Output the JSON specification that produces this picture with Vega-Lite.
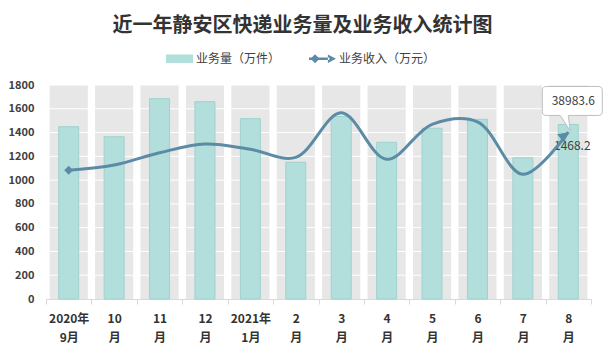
{
  "$schema": "https://vega.github.io/schema/vega-lite/v6.json",
  "width": 545,
  "height": 214,
  "autosize": {"type": "none"},
  "padding": {"left": 46, "top": 85, "right": 15, "bottom": 65},
  "background": "white",
  "title": {"text": "近一年静安区快递业务量及业务收入统计图", "font": "Noto Sans CJK SC", "fontSize": 20, "fontWeight": "bold", "color": "#333333", "anchor": "middle", "dx": -16, "offset": 9},
  "config": {"view": {"stroke": null}, "font": "Noto Sans CJK SC"},
  "data": {"values": [
    {"m": "2020年|9月", "量": 1449, "收入": 30070},
    {"m": "10|月", "量": 1365, "收入": 31300},
    {"m": "11|月", "量": 1685, "收入": 34180},
    {"m": "12|月", "量": 1660, "收入": 36200},
    {"m": "2021年|1月", "量": 1517, "收入": 34980},
    {"m": "2|月", "量": 1150, "收入": 33100},
    {"m": "3|月", "量": 1535, "收入": 43500},
    {"m": "4|月", "量": 1318, "收入": 32640},
    {"m": "5|月", "量": 1436, "收入": 40800},
    {"m": "6|月", "量": 1511, "收入": 41400},
    {"m": "7|月", "量": 1188, "收入": 29140},
    {"m": "8|月", "量": 1468.2, "收入": 38983.6}
  ]},
  "resolve": {"scale": {"y": "independent"}},
  "layer": [
    {
      "mark": {"type": "bar", "color": "#e7e7e7", "width": {"band": 0.84}},
      "encoding": {
        "x": {"field": "m", "type": "nominal", "sort": null, "scale": {"paddingInner": 0, "paddingOuter": 0}},
        "y": {"datum": 1800, "type": "quantitative", "scale": {"domain": [0, 1800], "nice": false}, "axis": null}
      }
    },
    {
      "data": {"values": [{"v": 200}, {"v": 400}, {"v": 600}, {"v": 800}, {"v": 1000}, {"v": 1200}, {"v": 1400}, {"v": 1600}, {"v": 1800}]},
      "mark": {"type": "rule", "color": "white", "strokeWidth": 1},
      "encoding": {
        "y": {"field": "v", "type": "quantitative", "scale": {"domain": [0, 1800], "nice": false}, "axis": null}
      }
    },
    {
      "mark": {"type": "bar", "width": {"band": 0.44}, "stroke": "#9fd2cd", "strokeWidth": 1},
      "encoding": {
        "x": {"field": "m", "type": "nominal", "sort": null, "scale": {"paddingInner": 0, "paddingOuter": 0},
          "axis": {"title": null, "labelAngle": 0, "labelAlign": "center", "labelExpr": "split(datum.label, '|')", "labelFont": "Noto Sans CJK SC", "labelFontSize": 12, "labelFontWeight": "bold", "labelColor": "#333333", "labelLineHeight": 19,
            "labelPadding": 14,
            "domainColor": "#d9d9d9", "tickColor": "#d9d9d9", "tickSize": 5, "tickBand": "extent", "grid": false}},
        "y": {"field": "量", "type": "quantitative", "scale": {"domain": [0, 1800], "nice": false},
          "axis": {"title": null, "values": [0, 200, 400, 600, 800, 1000, 1200, 1400, 1600, 1800], "format": "d", "domain": false, "ticks": false, "grid": false, "labelFont": "Noto Sans CJK SC", "labelFontSize": 11, "labelFontWeight": "bold", "labelColor": "#404040", "labelPadding": 12}},
        "color": {"datum": "业务量（万件）",
          "scale": {"domain": ["业务量（万件）", "业务收入（万元）"], "range": ["#b2dfdb", "#5b8ba5"]},
          "legend": {"orient": "none", "legendX": 120, "legendY": -40, "direction": "horizontal", "title": null, "padding": 0,
            "labelFont": "Noto Sans CJK SC", "labelFontSize": 12, "labelColor": "#404040", "labelOffset": 3, "columnPadding": 28, "symbolSize": 729, "symbolStrokeWidth": 0, "symbolOpacity": 1,
            "symbolType": {"expr": "datum.value === '业务量（万件）' ? 'M-1,-0.32H1V0.32H-1Z' : 'M-1,-0.1H0.5V0.1H-1Z M-0.55,-0.34L-0.22,0L-0.55,0.34L-0.88,0Z M1,0L0.4,-0.32L0.4,0.32Z'"}}}
      }
    },
    {
      "transform": [{"filter": "datum.m === '8|月'"}],
      "mark": {"type": "text", "dx": 4, "dy": 22, "fontSize": 12, "color": "#404040", "font": "Noto Sans CJK SC"},
      "encoding": {
        "x": {"field": "m", "type": "nominal", "sort": null},
        "y": {"field": "量", "type": "quantitative", "scale": {"domain": [0, 1800], "nice": false}, "axis": null},
        "text": {"field": "量", "type": "quantitative", "format": ".1f"}
      }
    },
    {
      "mark": {"type": "line", "interpolate": "catmull-rom", "strokeWidth": 3},
      "encoding": {
        "x": {"field": "m", "type": "nominal", "sort": null},
        "y": {"field": "收入", "type": "quantitative", "scale": {"domain": [0, 50000], "nice": false}, "axis": null},
        "color": {"datum": "业务收入（万元）"}
      }
    },
    {
      "transform": [{"filter": "datum.m === '2020年|9月'"}],
      "mark": {"type": "point", "shape": "diamond", "filled": true, "color": "#5b8ba5", "size": 80, "opacity": 1},
      "encoding": {
        "x": {"field": "m", "type": "nominal", "sort": null},
        "y": {"field": "收入", "type": "quantitative", "scale": {"domain": [0, 50000], "nice": false}, "axis": null}
      }
    },
    {
      "transform": [{"filter": "datum.m === '8|月'"}],
      "mark": {"type": "point", "shape": "M0,0L-1,-0.55L-1,0.55Z", "filled": true, "color": "#5b8ba5", "size": 400, "angle": -40, "opacity": 1},
      "encoding": {
        "x": {"field": "m", "type": "nominal", "sort": null},
        "y": {"field": "收入", "type": "quantitative", "scale": {"domain": [0, 50000], "nice": false}, "axis": null}
      }
    },
    {
      "transform": [{"filter": "datum.m === '8|月'"}],
      "mark": {"type": "point", "shape": "M-0.478,-0.993L0.652,-0.993Q0.739,-0.993 0.739,-0.906L0.739,-0.45Q0.739,-0.363 0.652,-0.363L0,-0.363L0.04,-0.03L-0.174,-0.363L-0.478,-0.363Q-0.565,-0.363 -0.565,-0.45L-0.565,-0.906Q-0.565,-0.993 -0.478,-0.993Z", "filled": true, "fill": "white", "stroke": "#bfbfbf", "strokeWidth": 1, "size": 8464, "opacity": 1},
      "encoding": {
        "x": {"field": "m", "type": "nominal", "sort": null},
        "y": {"field": "收入", "type": "quantitative", "scale": {"domain": [0, 50000], "nice": false}, "axis": null}
      }
    },
    {
      "transform": [{"filter": "datum.m === '8|月'"}],
      "mark": {"type": "text", "dx": 5, "dy": -31, "fontSize": 12, "color": "#404040", "font": "Noto Sans CJK SC"},
      "encoding": {
        "x": {"field": "m", "type": "nominal", "sort": null},
        "y": {"field": "收入", "type": "quantitative", "scale": {"domain": [0, 50000], "nice": false}, "axis": null},
        "text": {"field": "收入", "type": "quantitative", "format": ".1f"}
      }
    }
  ]
}
